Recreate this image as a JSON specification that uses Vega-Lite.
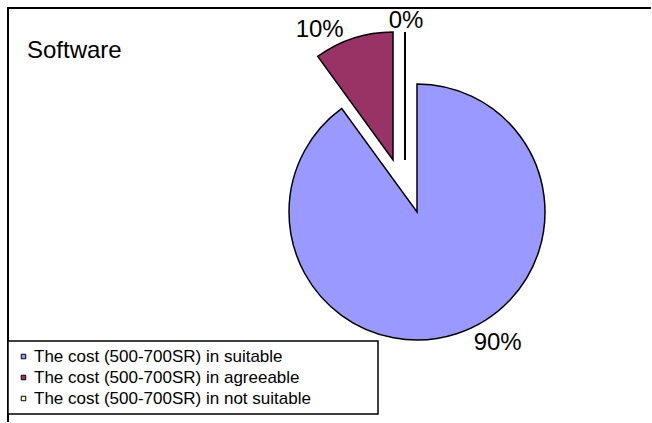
{
  "$schema": "https://vega.github.io/schema/vega-lite/v6.json",
  "autosize": {"type": "none"},
  "padding": {"left": 8, "top": 8, "right": 0, "bottom": 0},
  "width": 643,
  "height": 414,
  "background": "white",
  "view": {"stroke": "black", "strokeWidth": 2, "strokeDash": [643, 1057, 414]},
  "title": {"text": "Software", "anchor": "start", "frame": "group", "fontSize": 24, "font": "Liberation Sans", "fontWeight": "normal", "color": "black", "dx": 19, "dy": 74, "offset": 0, "baseline": "alphabetic"},
  "data": {"values": [
    {"category": "The cost (500-700SR) in suitable", "pct": 90},
    {"category": "The cost (500-700SR) in agreeable", "pct": 10},
    {"category": "The cost (500-700SR) in not suitable", "pct": 0}
  ]},
  "transform": [
    {"stack": "pct", "as": ["t0", "t1"], "groupby": [], "sort": [{"field": "pct", "order": "descending"}]},
    {"calculate": "(datum.t0 + datum.t1) / 2", "as": "mid"},
    {"calculate": "datum.pct + '%'", "as": "label"}
  ],
  "layer": [
    {
      "transform": [{"filter": "datum.pct == 90"}],
      "mark": {"type": "arc", "radius": 128, "stroke": "black", "strokeWidth": 1.5, "xOffset": 87.5, "yOffset": -3},
      "encoding": {
        "theta": {"field": "t0", "type": "quantitative", "scale": {"domain": [0, 100]}},
        "theta2": {"field": "t1"},
        "color": {"field": "category", "type": "nominal", "scale": {"domain": ["The cost (500-700SR) in suitable", "The cost (500-700SR) in agreeable", "The cost (500-700SR) in not suitable"], "range": ["#9999FF", "#993366", "#FFFFCC"]}, "legend": {"title": null, "labelExpr": "datum.label + '\u2800\u2800\u2800\u2800\u2800'"}}
      }
    },
    {
      "transform": [{"filter": "datum.pct == 10"}],
      "mark": {"type": "arc", "radius": 128, "stroke": "black", "strokeWidth": 1.5, "xOffset": 63.5, "yOffset": -55},
      "encoding": {
        "theta": {"field": "t0", "type": "quantitative"},
        "theta2": {"field": "t1"},
        "color": {"field": "category", "type": "nominal"}
      }
    },
    {
      "transform": [{"filter": "datum.pct == 0"}],
      "mark": {"type": "arc", "radius": 128, "stroke": "black", "strokeWidth": 2, "xOffset": 75.5, "yOffset": -55},
      "encoding": {
        "theta": {"field": "t0", "type": "quantitative"},
        "theta2": {"field": "t1"},
        "color": {"field": "category", "type": "nominal"}
      }
    },
    {
      "transform": [{"filter": "datum.pct == 90"}],
      "mark": {"type": "text", "radius": 138, "fontSize": 24, "font": "Liberation Sans", "color": "black", "dx": 125.5, "dy": -3, "align": "center", "baseline": "middle"},
      "encoding": {
        "theta": {"field": "mid", "type": "quantitative"},
        "text": {"field": "label"}
      }
    },
    {
      "transform": [{"filter": "datum.pct == 10"}],
      "mark": {"type": "text", "radius": 137, "fontSize": 24, "font": "Liberation Sans", "color": "black", "dx": 32.5, "dy": -55, "align": "center", "baseline": "middle"},
      "encoding": {
        "theta": {"field": "mid", "type": "quantitative"},
        "text": {"field": "label"}
      }
    },
    {
      "transform": [{"filter": "datum.pct == 0"}],
      "mark": {"type": "text", "radius": 139, "fontSize": 24, "font": "Liberation Sans", "color": "black", "dx": 76.5, "dy": -55, "align": "center", "baseline": "middle"},
      "encoding": {
        "theta": {"field": "mid", "type": "quantitative"},
        "text": {"field": "label"}
      }
    }
  ],
  "config": {
    "font": "Liberation Sans",
    "legend": {
      "orient": "none", "legendX": 0, "legendY": 333,
      "fillColor": "white", "strokeColor": "black", "strokeWidth": 1.5,
      "padding": 7, "symbolType": "square", "symbolSize": 20, "symbolStrokeColor": "black", "symbolStrokeWidth": 1,
      "symbolOffset": 0, "labelOffset": 2, "rowPadding": 3,
      "labelFont": "Liberation Sans", "labelFontSize": 17, "labelColor": "black", "labelLimit": 0
    }
  }
}
